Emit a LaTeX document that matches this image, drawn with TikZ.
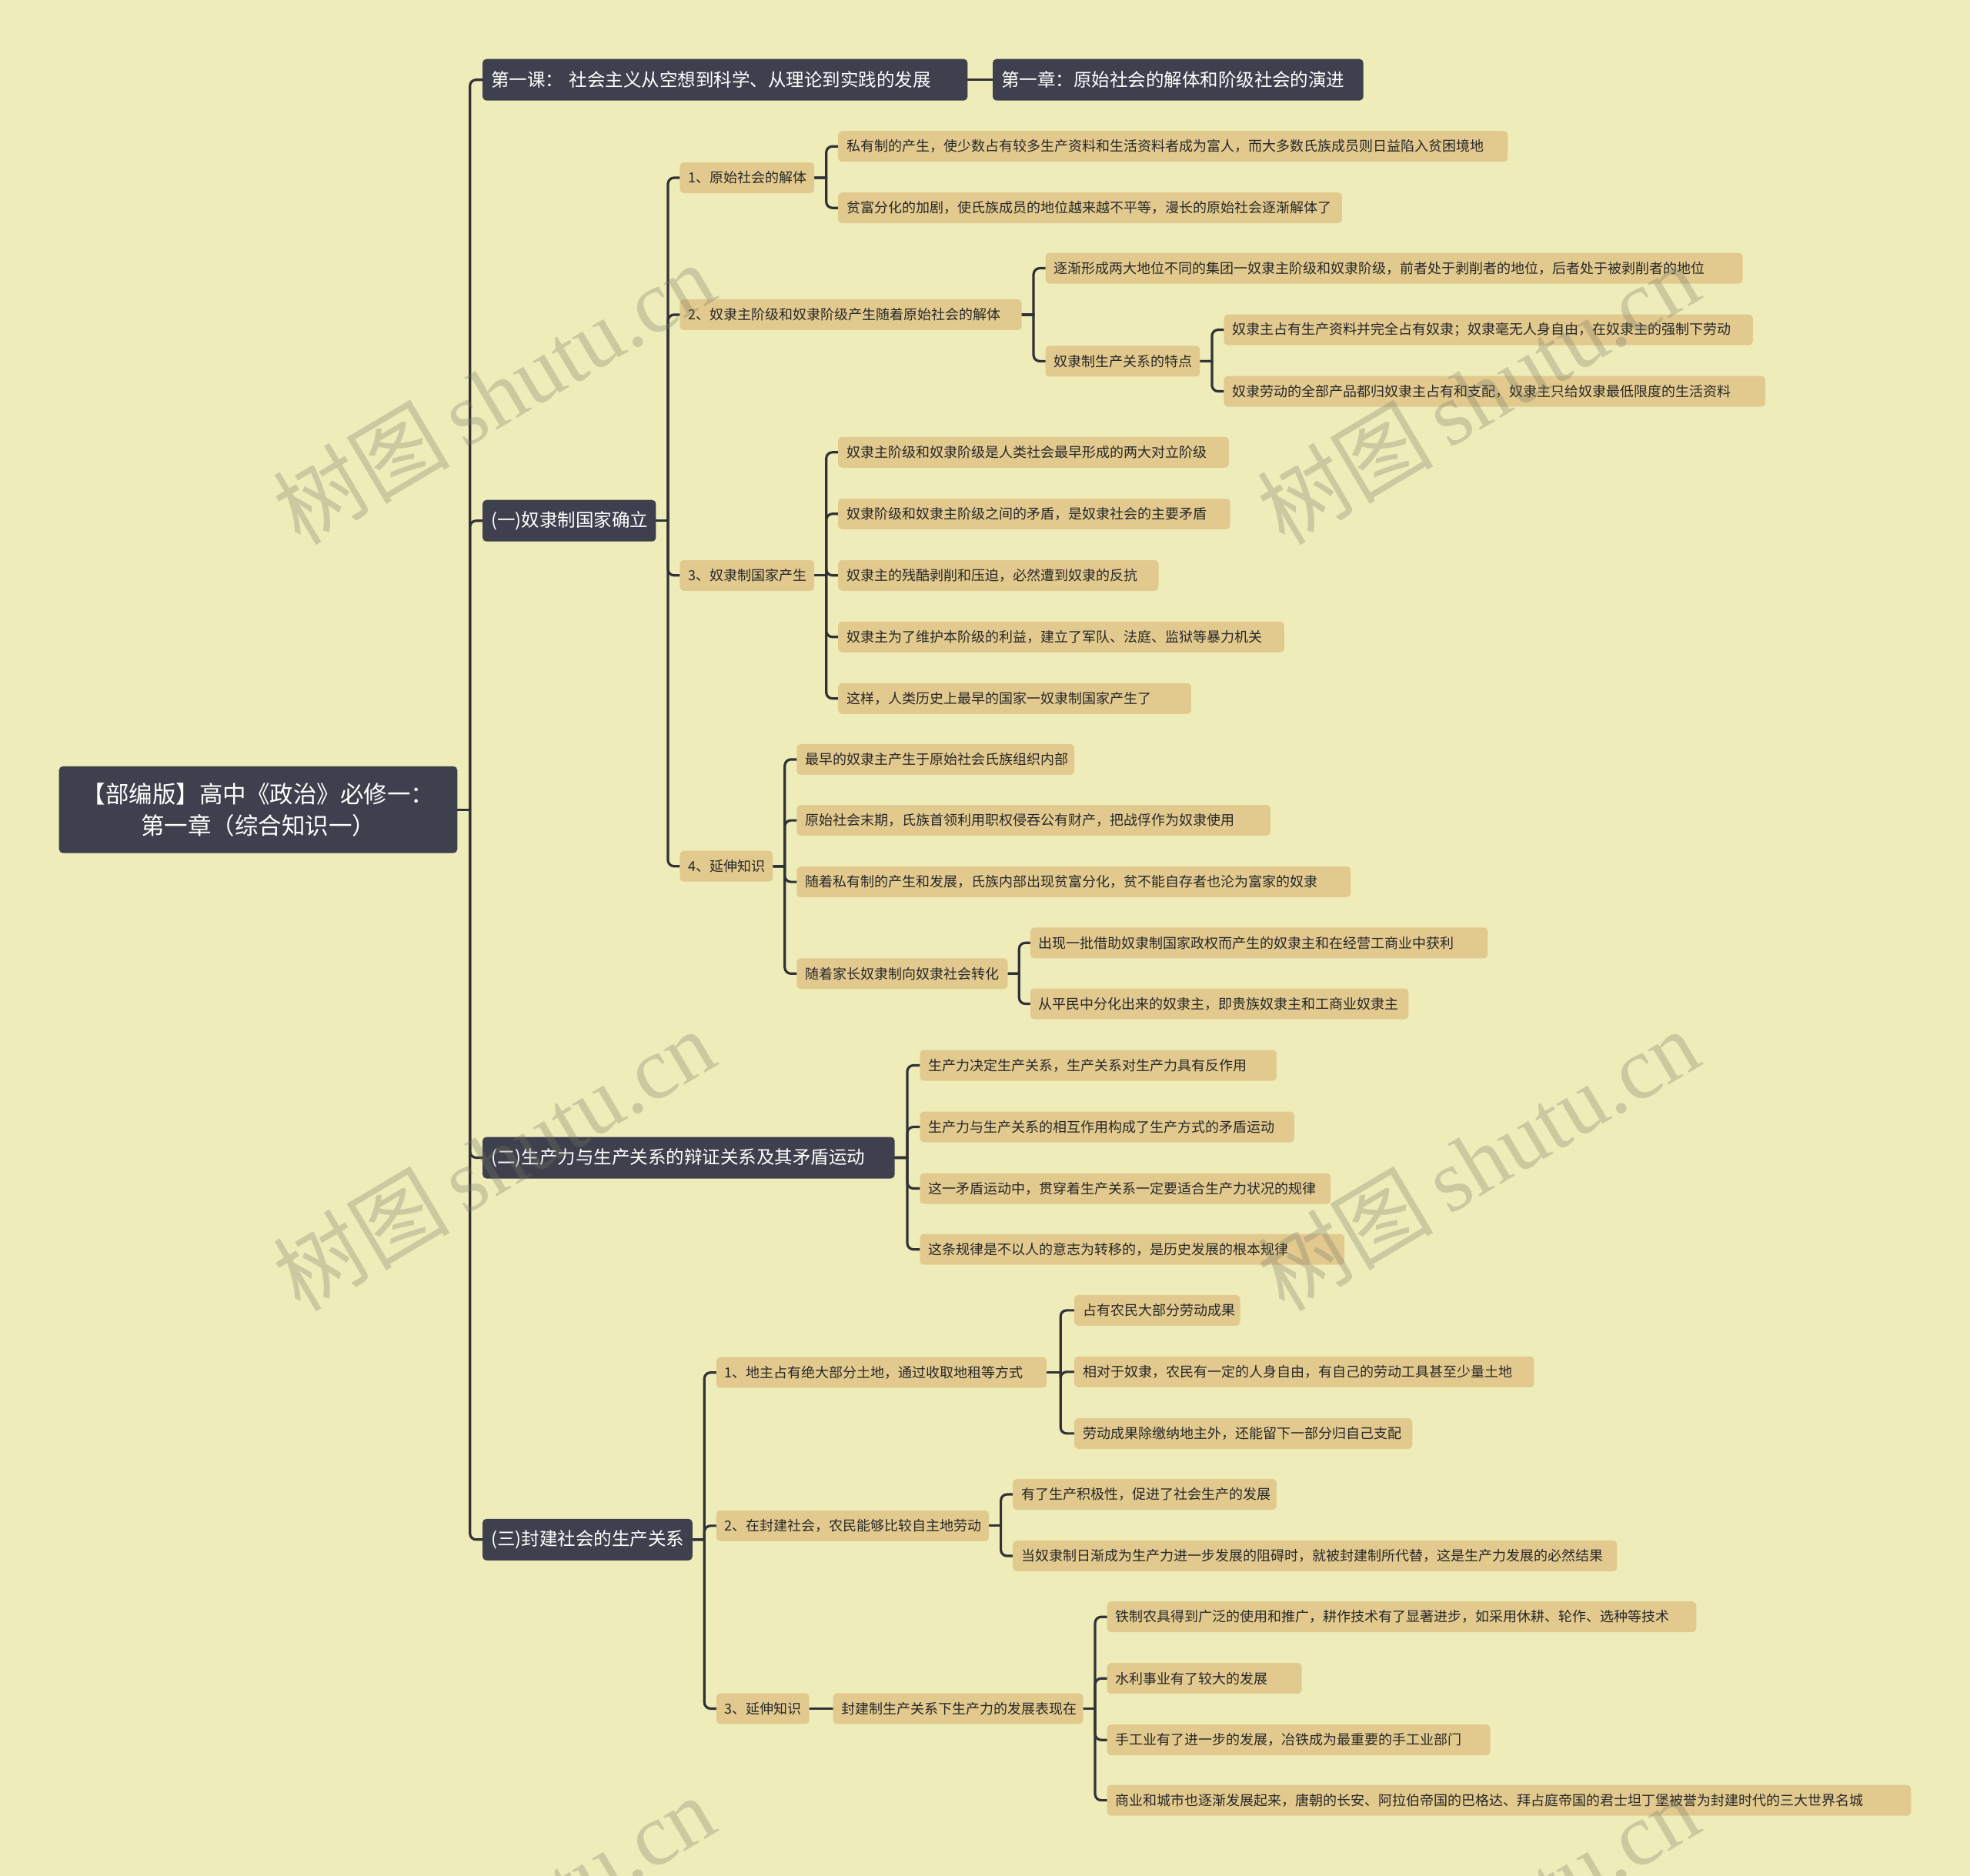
\documentclass[tikz,border=0pt]{standalone}
\usepackage{fontspec}
\setmainfont{Noto Sans CJK SC}
\newfontfamily\wmserif{Liberation Serif}
\usetikzlibrary{calc}
\definecolor{bgc}{RGB}{238,237,186}
\definecolor{leafc}{RGB}{226,202,143}
\definecolor{darkc}{RGB}{62,64,77}
\definecolor{linec}{RGB}{50,50,54}
\definecolor{txtc}{RGB}{40,40,40}
\definecolor{wmc}{RGB}{120,120,100}
\pgfdeclarelayer{bglayer}
\pgfdeclarelayer{edges}
\pgfdeclarelayer{fglayer}
\pgfsetlayers{bglayer,edges,main,fglayer}
\tikzset{
  leaf/.style={fill=leafc, text=txtc, rounded corners=5pt, inner xsep=11pt, inner ysep=0pt,
    minimum height=40pt, align=left, font=\fontsize{18pt}{21pt}\selectfont},
  dark/.style={fill=darkc, text=white, rounded corners=5pt, inner xsep=11pt, inner ysep=0pt,
    minimum height=54pt, align=left, font=\fontsize{23.5pt}{28pt}\selectfont},
  conn/.style={draw=linec, line width=3.2pt, line cap=round},
  wm/.style={text=wmc, opacity=0.3, font=\fontsize{115pt}{115pt}\selectfont, inner sep=0pt}
}
\newcommand\bx[6]{%
  \pgfmathsetmacro\bxw{(#3-#2)*1.6327-22}%
  \node[#5, anchor=west, text width=\bxw pt] (#1) at (#2,#4) {#6};}
\newcommand\lk[2]{%
  \coordinate (m) at ($(#1.east)!0.5!(#1.east -| #2.west)$);
  \draw[conn] (#1.east) -- (m);
  \draw[conn, rounded corners=8pt] (m) |- (#2.west);}
\begin{document}
\begin{tikzpicture}[x=1.6327pt, y=-1.6327pt]
\begin{pgfonlayer}{bglayer}
\fill[bgc] (0,0) rectangle (1568,1493);
\end{pgfonlayer}
\useasboundingbox (0,0) rectangle (1568,1493);
\clip (0,0) rectangle (1568,1493);

% root
\node[dark, align=center, minimum width=517.6pt, minimum height=112.7pt,
  font=\fontsize{30.5pt}{41pt}\selectfont] (root) at (205.5,644.5)
  {【部编版】高中《政治》必修一：\\第一章（综合知识一）};

% level 1
\bx{k1}{384}{770}{63.5}{dark}{第一课：\ 社会主义从空想到科学、从理论到实践的发展}
\bx{k2}{790}{1085}{63.5}{dark}{第一章：原始社会的解体和阶级社会的演进}
\bx{a}{384}{522}{414.5}{dark}{(一)奴隶制国家确立}
\bx{b}{384}{712}{921.5}{dark}{(二)生产力与生产关系的辩证关系及其矛盾运动}
\bx{c}{384}{551}{1225.5}{dark}{(三)封建社会的生产关系}

% (一)
\bx{a1}{541}{648}{141.5}{leaf}{1、原始社会的解体}
\bx{a2}{541}{813}{250.5}{leaf}{2、奴隶主阶级和奴隶阶级产生随着原始社会的解体}
\bx{a3}{541}{648}{458}{leaf}{3、奴隶制国家产生}
\bx{a4}{541}{615}{689.5}{leaf}{4、延伸知识}

\bx{a11}{667}{1200}{116.5}{leaf}{私有制的产生，使少数占有较多生产资料和生活资料者成为富人，而大多数氏族成员则日益陷入贫困境地}
\bx{a12}{667}{1068}{165.5}{leaf}{贫富分化的加剧，使氏族成员的地位越来越不平等，漫长的原始社会逐渐解体了}

\bx{a21}{832}{1387}{213.5}{leaf}{逐渐形成两大地位不同的集团一奴隶主阶级和奴隶阶级，前者处于剥削者的地位，后者处于被剥削者的地位}
\bx{a22}{832}{955}{287.5}{leaf}{奴隶制生产关系的特点}
\bx{a221}{974}{1395}{262.5}{leaf}{奴隶主占有生产资料并完全占有奴隶；奴隶毫无人身自由，在奴隶主的强制下劳动}
\bx{a222}{974}{1405}{311.5}{leaf}{奴隶劳动的全部产品都归奴隶主占有和支配，奴隶主只给奴隶最低限度的生活资料}

\bx{a31}{667}{978}{360}{leaf}{奴隶主阶级和奴隶阶级是人类社会最早形成的两大对立阶级}
\bx{a32}{667}{979}{409}{leaf}{奴隶阶级和奴隶主阶级之间的矛盾，是奴隶社会的主要矛盾}
\bx{a33}{667}{922}{458}{leaf}{奴隶主的残酷剥削和压迫，必然遭到奴隶的反抗}
\bx{a34}{667}{1022}{507}{leaf}{奴隶主为了维护本阶级的利益，建立了军队、法庭、监狱等暴力机关}
\bx{a35}{667}{948}{556}{leaf}{这样，人类历史上最早的国家一奴隶制国家产生了}

\bx{a41}{634}{855}{604.5}{leaf}{最早的奴隶主产生于原始社会氏族组织内部}
\bx{a42}{634}{1011}{653}{leaf}{原始社会末期，氏族首领利用职权侵吞公有财产，把战俘作为奴隶使用}
\bx{a43}{634}{1075}{702}{leaf}{随着私有制的产生和发展，氏族内部出现贫富分化，贫不能自存者也沦为富家的奴隶}
\bx{a44}{634}{802}{775}{leaf}{随着家长奴隶制向奴隶社会转化}
\bx{a441}{820}{1184}{750.5}{leaf}{出现一批借助奴隶制国家政权而产生的奴隶主和在经营工商业中获利}
\bx{a442}{820}{1121}{799}{leaf}{从平民中分化出来的奴隶主，即贵族奴隶主和工商业奴隶主}

% (二)
\bx{b1}{732}{1016}{848}{leaf}{生产力决定生产关系，生产关系对生产力具有反作用}
\bx{b2}{732}{1030}{897}{leaf}{生产力与生产关系的相互作用构成了生产方式的矛盾运动}
\bx{b3}{732}{1059}{946}{leaf}{这一矛盾运动中，贯穿着生产关系一定要适合生产力状况的规律}
\bx{b4}{732}{1070}{994.5}{leaf}{这条规律是不以人的意志为转移的，是历史发展的根本规律}

% (三)
\bx{c1}{570}{833}{1092.5}{leaf}{1、地主占有绝大部分土地，通过收取地租等方式}
\bx{c11}{855}{987}{1043}{leaf}{占有农民大部分劳动成果}
\bx{c12}{855}{1221}{1092}{leaf}{相对于奴隶，农民有一定的人身自由，有自己的劳动工具甚至少量土地}
\bx{c13}{855}{1124}{1141}{leaf}{劳动成果除缴纳地主外，还能留下一部分归自己支配}
\bx{c2}{570}{787}{1214.5}{leaf}{2、在封建社会，农民能够比较自主地劳动}
\bx{c21}{806}{1016}{1189.5}{leaf}{有了生产积极性，促进了社会生产的发展}
\bx{c22}{806}{1287}{1238.5}{leaf}{当奴隶制日渐成为生产力进一步发展的阻碍时，就被封建制所代替，这是生产力发展的必然结果}
\bx{c3}{570}{644}{1360}{leaf}{3、延伸知识}
\bx{c31}{663}{862}{1360}{leaf}{封建制生产关系下生产力的发展表现在}
\bx{c311}{881}{1350}{1287}{leaf}{铁制农具得到广泛的使用和推广，耕作技术有了显著进步，如采用休耕、轮作、选种等技术}
\bx{c312}{881}{1036}{1336}{leaf}{水利事业有了较大的发展}
\bx{c313}{881}{1186}{1385}{leaf}{手工业有了进一步的发展，冶铁成为最重要的手工业部门}
\bx{c314}{881}{1521}{1433}{leaf}{商业和城市也逐渐发展起来，唐朝的长安、阿拉伯帝国的巴格达、拜占庭帝国的君士坦丁堡被誉为封建时代的三大世界名城}

\begin{pgfonlayer}{edges}
\lk{root}{k1}\lk{root}{a}\lk{root}{b}\lk{root}{c}
\draw[conn] (k1.east) -- (k2.west);
\lk{a}{a1}\lk{a}{a2}\lk{a}{a3}\lk{a}{a4}
\lk{a1}{a11}\lk{a1}{a12}
\lk{a2}{a21}\lk{a2}{a22}
\lk{a22}{a221}\lk{a22}{a222}
\lk{a3}{a31}\lk{a3}{a32}\lk{a3}{a33}\lk{a3}{a34}\lk{a3}{a35}
\lk{a4}{a41}\lk{a4}{a42}\lk{a4}{a43}\lk{a4}{a44}
\lk{a44}{a441}\lk{a44}{a442}
\lk{b}{b1}\lk{b}{b2}\lk{b}{b3}\lk{b}{b4}
\lk{c}{c1}\lk{c}{c2}\lk{c}{c3}
\lk{c1}{c11}\lk{c1}{c12}\lk{c1}{c13}
\lk{c2}{c21}\lk{c2}{c22}
\draw[conn] (c3.east) -- (c31.west);
\lk{c31}{c311}\lk{c31}{c312}\lk{c31}{c313}\lk{c31}{c314}
\end{pgfonlayer}

\begin{pgfonlayer}{fglayer}
\foreach \wx/\wy in {393/313, 1176/313, 393/923, 1176/923, 393/1533, 1176/1533}
  \node[wm, rotate=30.7] at (\wx,\wy) {树图\,{\wmserif shutu.cn}};
\end{pgfonlayer}
\end{tikzpicture}
\end{document}
